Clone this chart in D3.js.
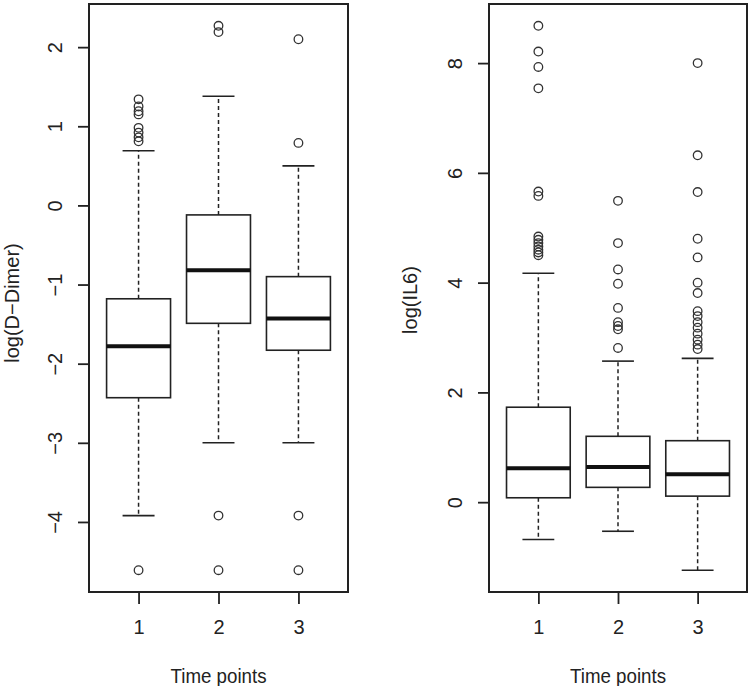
<!DOCTYPE html>
<html>
<head>
<meta charset="utf-8">
<script src="https://cdn.jsdelivr.net/npm/d3@7"></script>
<style>
  body { margin: 0; background: #fff; }
  svg { display: block; font-family: "Liberation Sans", Arial, Helvetica, sans-serif; }
</style>
</head>
<body>
<svg width="750" height="686"></svg>
<script>
// time points on the x axis
const timePoints = [1, 2, 3];

// box stats: [lower whisker, q1, median, q3, upper whisker]
const ddimerStats = [
    [-3.92, -2.43, -1.78, -1.18, 0.69],
    [-3.00, -1.49, -0.82, -0.12, 1.38],
    [-3.00, -1.83, -1.43, -0.90, 0.50]
];
const ddimerOutliers = [
    [1.34, 1.25, 1.19, 1.15, 0.98, 0.92, 0.86, 0.81, -4.61],
    [2.27, 2.19, -3.92, -4.61],
    [2.10, 0.79, -3.92, -4.61]
];
const ddimerTicks = [-4, -3, -2, -1, 0, 1, 2];

const il6Stats = [
    [-0.68, 0.08, 0.62, 1.73, 4.17],
    [-0.53, 0.27, 0.64, 1.20, 2.57],
    [-1.24, 0.11, 0.51, 1.12, 2.62]
];
const il6Outliers = [
    [8.68, 8.21, 7.93, 7.54, 5.66, 5.58, 4.84, 4.78, 4.72, 4.66, 4.60, 4.55, 4.50],
    [5.49, 4.72, 4.24, 3.98, 3.54, 3.28, 3.21, 3.15, 2.81],
    [8.00, 6.32, 5.65, 4.80, 4.46, 4.00, 3.81, 3.48, 3.39, 3.28, 3.18, 3.07, 2.96, 2.87, 2.79]
];
const il6Ticks = [0, 2, 4, 6, 8];

const svg = d3.select("svg");
const plotTop = 4, plotBottom = 592;
const ink = "#222";
const fontSize = 20;

function drawPanel(left, right, stats, outliers, ticks, ylabel, labelX, labelY) {
    // value range like R: data range expanded by 4%
    let all = stats.flat().concat(outliers.flat());
    let lo = d3.min(all), hi = d3.max(all), pad = (hi - lo) * 0.04;

    let x = d3.scaleLinear().domain([0.38, 3.62]).range([left, right]);
    let y = d3.scaleLinear().domain([lo - pad, hi + pad]).range([plotBottom, plotTop]);

    let g = svg.append("g");

    // y axis, labels parallel to the axis like R
    let yAxis = g.append("g")
        .attr("transform", "translate(" + left + ",0)")
        .call(d3.axisLeft(y).tickValues(ticks).tickSize(11).tickFormat(d => d < 0 ? "\u2212" + (-d) : d));
    yAxis.select(".domain").remove();
    yAxis.selectAll("line").attr("stroke", ink).attr("stroke-width", 1.8);
    yAxis.selectAll("text")
        .attr("transform", "rotate(-90)")
        .attr("x", 0).attr("y", -34).attr("dy", "0.35em")
        .attr("text-anchor", "middle")
        .attr("font-size", fontSize).attr("font-family", null)
        .attr("fill", ink);

    // x axis
    let xAxis = g.append("g")
        .attr("transform", "translate(0," + plotBottom + ")")
        .call(d3.axisBottom(x).tickValues(timePoints).tickFormat(d3.format("d")).tickSize(12).tickPadding(16));
    xAxis.select(".domain").remove();
    xAxis.selectAll("line").attr("stroke", ink).attr("stroke-width", 1.8);
    xAxis.selectAll("text").attr("font-size", fontSize).attr("font-family", null).attr("fill", ink);

    // boxes
    let bw = 0.4, cw = 0.2;
    let boxes = g.selectAll(".box").data(stats).enter().append("g");

    boxes.append("line") // upper whisker
        .attr("x1", (d, i) => x(timePoints[i])).attr("x2", (d, i) => x(timePoints[i]))
        .attr("y1", d => y(d[3])).attr("y2", d => y(d[4]))
        .attr("stroke", ink).attr("stroke-width", 1.5).attr("stroke-dasharray", "4,3");
    boxes.append("line") // lower whisker
        .attr("x1", (d, i) => x(timePoints[i])).attr("x2", (d, i) => x(timePoints[i]))
        .attr("y1", d => y(d[1])).attr("y2", d => y(d[0]))
        .attr("stroke", ink).attr("stroke-width", 1.5).attr("stroke-dasharray", "4,3");
    [0, 4].forEach(k => {
        boxes.append("line")
            .attr("x1", (d, i) => x(timePoints[i] - cw)).attr("x2", (d, i) => x(timePoints[i] + cw))
            .attr("y1", d => y(d[k])).attr("y2", d => y(d[k]))
            .attr("stroke", ink).attr("stroke-width", 1.6);
    });
    boxes.append("rect")
        .attr("x", (d, i) => x(timePoints[i] - bw))
        .attr("width", (d, i) => x(timePoints[i] + bw) - x(timePoints[i] - bw))
        .attr("y", d => y(d[3]))
        .attr("height", d => y(d[1]) - y(d[3]))
        .attr("fill", "#fff").attr("stroke", ink).attr("stroke-width", 1.6);
    boxes.append("line") // median
        .attr("x1", (d, i) => x(timePoints[i] - bw)).attr("x2", (d, i) => x(timePoints[i] + bw))
        .attr("y1", d => y(d[2])).attr("y2", d => y(d[2]))
        .attr("stroke", "#111").attr("stroke-width", 4);

    // outliers
    outliers.forEach((vals, i) => {
        g.selectAll(null).data(vals).enter().append("circle")
            .attr("cx", x(timePoints[i]))
            .attr("cy", d => y(d))
            .attr("r", 4.3)
            .attr("fill", "none").attr("stroke", "#333").attr("stroke-width", 1.3);
    });

    // frame
    g.append("rect")
        .attr("x", left).attr("y", plotTop)
        .attr("width", right - left).attr("height", plotBottom - plotTop)
        .attr("fill", "none").attr("stroke", ink).attr("stroke-width", 2);

    // axis titles
    g.append("text")
        .attr("x", (left + right) / 2).attr("y", 683)
        .attr("text-anchor", "middle").attr("font-size", fontSize).attr("fill", ink)
        .attr("textLength", 96).attr("lengthAdjust", "spacingAndGlyphs")
        .text("Time points");
    g.append("text")
        .attr("transform", "translate(" + labelX + "," + labelY + ") rotate(-90)")
        .attr("text-anchor", "middle").attr("font-size", fontSize).attr("fill", ink)
        .text(ylabel);
}

drawPanel(89, 348, ddimerStats, ddimerOutliers, ddimerTicks, "log(D\u2212Dimer)", 18.5, 303);
drawPanel(489, 747, il6Stats, il6Outliers, il6Ticks, "log(IL6)", 417, 300);
</script>
</body>
</html>
